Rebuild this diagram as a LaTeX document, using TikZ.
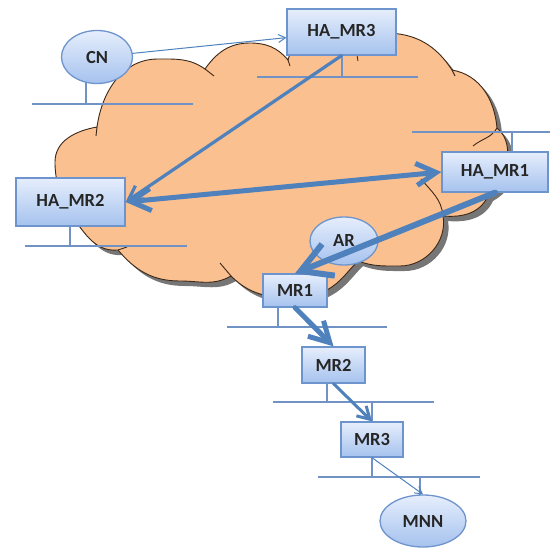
\documentclass[tikz,border=0pt]{standalone}
\usepackage{fontspec}
\setmainfont{Carlito}
\usetikzlibrary{arrows.meta,shapes.geometric}
\definecolor{cloudfill}{RGB}{250,192,144}
\definecolor{cloudline}{RGB}{60,40,25}
\definecolor{cloudshadow}{RGB}{118,118,118}
\definecolor{barcol}{RGB}{112,146,196}
\definecolor{arrcol}{RGB}{79,129,189}
\definecolor{boxtop}{RGB}{230,238,252}
\definecolor{boxbot}{RGB}{165,194,238}
\definecolor{boxline}{RGB}{110,148,205}
\newcommand{\cloudoutline}[1]{%
\path[#1] (97,-127)
 to[out=82,in=180] (158,-59) to[out=0,in=145] (205,-69)
 to[out=55,in=180] (250,-43) to[out=0,in=130] (288,-60)
 to[out=75,in=180] (385,-33) to[out=0,in=123] (452,-70)
 to[out=-10,in=95] (497,-128)
 to[out=-40,in=90] (508,-165) to[out=-90,in=30] (488,-196)
 to[out=-115,in=-5] (443,-216)
 to[out=-80,in=0] (400,-266) to[out=180,in=-20] (358,-261)
 to[out=-135,in=30] (327,-290) to[out=210,in=0] (295,-298)
 to[out=180,in=-45] (231,-276)
 to[out=-150,in=0] (180,-281) to[out=180,in=-50] (118,-250)
 to[out=185,in=-45] (62,-205)
 to[out=100,in=-90] (55,-162) to[out=90,in=190] (97,-127) -- cycle;}
\begin{document}
\begin{tikzpicture}[x=1pt,y=1pt,
  netbox/.style={draw=boxline, line width=1.3pt, top color=boxtop, bottom color=boxbot,
    font=\fontsize{18.5}{20}\selectfont\bfseries, text=black!85, inner sep=0pt},
  hostnode/.style={ellipse, draw=boxline, line width=1.3pt, top color=boxtop, bottom color=boxbot,
    font=\fontsize{18.5}{20}\selectfont\bfseries, text=black!85, inner sep=0pt},
  bar/.style={draw=barcol, line width=2.4pt},
  stem/.style={draw=barcol, line width=2pt},
  link/.style={draw=arrcol, line cap=round}]
\useasboundingbox (0,0) rectangle (550,-549);
% cloud
\cloudoutline{fill=cloudshadow, shift={(5,-5)}}
\cloudoutline{fill=cloudfill, draw=cloudline, line width=0.9pt}
\draw[cloudline, line width=0.9pt]
  (97,-127) -- (96,-136)
  (205,-69) -- (214,-76)
  (288,-60) -- (290,-66)
  (357,-55) -- (358,-61)
  (452,-70) -- (455,-76)
  (497,-128) to[out=-120,in=40] (473,-146)
  (443,-216) to[out=95,in=-50] (421,-179)
  (231,-276) -- (220,-263)
  (118,-250) -- (127,-247);
% coordinates for LAN bars
\coordinate (b1a) at (32,-104);  \coordinate (b1b) at (193,-104);
\coordinate (b2a) at (257,-77);  \coordinate (b2b) at (418,-77);
\coordinate (b3a) at (412,-132); \coordinate (b3b) at (550,-132);
\coordinate (b4a) at (25,-246);  \coordinate (b4b) at (187,-246);
\coordinate (b5a) at (227,-327); \coordinate (b5b) at (387,-327);
\coordinate (b6a) at (273,-402); \coordinate (b6b) at (434,-402);
\coordinate (b7a) at (318,-477); \coordinate (b7b) at (480,-477);
\draw[bar] (b1a) -- (b1b);
\draw[bar] (b2a) -- (b2b);
\draw[bar] (b3a) -- (b3b);
\draw[bar] (b4a) -- (b4b);
\draw[bar] (b5a) -- (b5b);
\draw[bar] (b6a) -- (b6b);
\draw[bar] (b7a) -- (b7b);
% stems (drawn under the nodes)
\draw[stem] (86,-75) -- (86,-104);
\draw[stem] (342,-50) -- (342,-77);
\draw[stem] (512,-132) -- (512,-157);
\draw[stem] (70,-220) -- (70,-246);
\draw[stem] (278,-300) -- (278,-327);
\draw[stem] (327,-378) -- (327,-402);
\draw[stem] (372,-402) -- (372,-428);
\draw[stem] (372,-450) -- (372,-477);
\draw[stem] (420,-477) -- (420,-500);
% nodes
\node[hostnode, minimum width=71pt, minimum height=53pt] (CN) at (97,-57) {CN};
\node[netbox, minimum width=109pt, minimum height=46pt] (HAMR3) at (341.5,-32) {HA\_MR3};
\node[netbox, minimum width=109pt, minimum height=48pt] (HAMR2) at (70.5,-202) {HA\_MR2};
\node[netbox, minimum width=106pt, minimum height=40pt] (HAMR1) at (495,-172) {HA\_MR1};
\node[hostnode, minimum width=68pt, minimum height=48pt] (AR) at (344,-241) {AR};
\node[netbox, minimum width=64pt, minimum height=33pt] (MR1) at (295,-290.5) {MR1};
\node[netbox, minimum width=63pt, minimum height=36pt] (MR2) at (333.5,-365) {MR2};
\node[netbox, minimum width=62pt, minimum height=35pt] (MR3) at (372,-439.5) {MR3};
\node[hostnode, minimum width=86pt, minimum height=52pt] (MNN) at (423,-521) {MNN};
% connectors
\draw[link, line width=1pt, -{Straight Barb[length=7pt,width=8pt,line width=1pt]}] (CN) -- (HAMR3);
\draw[link, line width=3.2pt, -{Straight Barb[length=14pt,width=16pt,line width=3.2pt]}] (HAMR3.south) -- (HAMR2.east);
\draw[link, line width=5pt, {Straight Barb[length=20pt,width=22pt,line width=5pt]}-{Straight Barb[length=20pt,width=22pt,line width=5pt]}] (HAMR2.east) -- (HAMR1.west);
\draw[link, line width=6pt, -{Straight Barb[length=30pt,width=34pt,line width=6pt]}] (HAMR1.south) -- (MR1.north);
\draw[link, line width=5pt, -{Straight Barb[length=20pt,width=22pt,line width=5pt]}] (MR1.south) -- (MR2.north);
\draw[link, line width=3pt, -{Straight Barb[length=12pt,width=14pt,line width=3pt]}] (MR2.south) -- (MR3.north);
\draw[link, line width=1pt, -{Straight Barb[length=7pt,width=8pt,line width=1pt]}] (MR3.south) -- (MNN.north);
\end{tikzpicture}
\end{document}
